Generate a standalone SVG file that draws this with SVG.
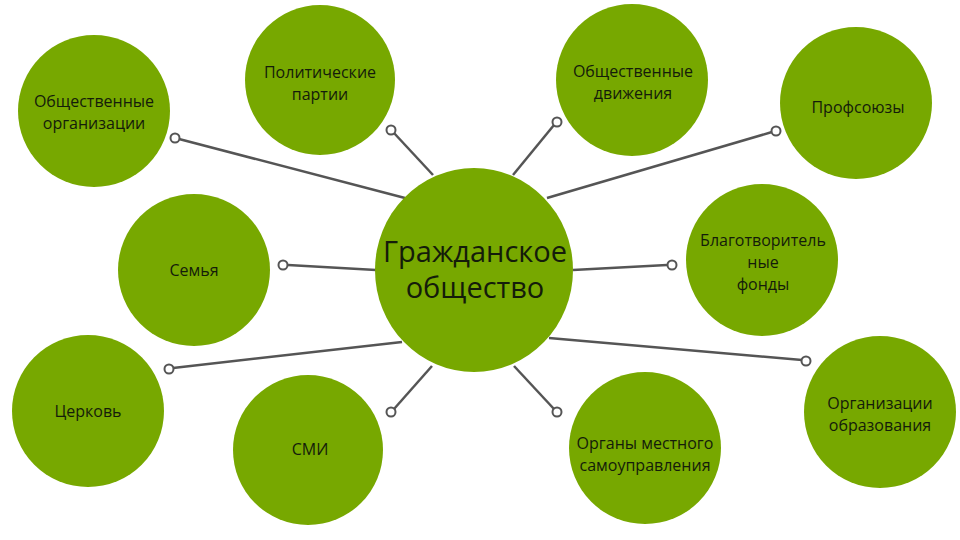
<svg xmlns="http://www.w3.org/2000/svg" width="960" height="540" viewBox="0 0 960 540">
<style>
.n{fill:#77a800}
.t{font-family:"Open Sans","Noto Sans","Liberation Sans",sans-serif;font-size:16px;fill:#141c0a;text-anchor:middle}
.big{font-size:29px}
.c line{stroke:#555;stroke-width:2.5}
.c circle{fill:#fff;stroke:#555;stroke-width:2}
</style>
<rect width="960" height="540" fill="#fff"/>
<g id="connectors" class="c">
<line x1="179" y1="139" x2="405" y2="198"/>
<line x1="394" y1="133" x2="433" y2="175"/>
<line x1="554" y1="125" x2="513" y2="175"/>
<line x1="772" y1="132" x2="547" y2="198"/>
<line x1="288" y1="265" x2="376" y2="270"/>
<line x1="667" y1="265" x2="573" y2="270"/>
<line x1="173" y1="368" x2="402" y2="342"/>
<line x1="394" y1="409" x2="432" y2="366"/>
<line x1="554" y1="409" x2="514" y2="366"/>
<line x1="802" y1="360" x2="549" y2="338"/>
<circle cx="175" cy="138" r="4.5"/>
<circle cx="391" cy="130" r="4.5"/>
<circle cx="557" cy="122" r="4.5"/>
<circle cx="776" cy="131" r="4.5"/>
<circle cx="283" cy="265" r="4.5"/>
<circle cx="672" cy="265" r="4.5"/>
<circle cx="169" cy="369" r="4.5"/>
<circle cx="391" cy="412" r="4.5"/>
<circle cx="557" cy="412" r="4.5"/>
<circle cx="806" cy="361" r="4.5"/>
</g>
<g id="center"><ellipse class="n" cx="474" cy="270" rx="99" ry="102"/>
<text class="t big" x="475" y="262">Гражданское</text><text class="t big" x="475" y="298">общество</text></g>
<g id="obshch-org"><circle class="n" cx="94" cy="111" r="76"/>
<text class="t" x="94" y="107">Общественные</text><text class="t" x="94" y="129">организации</text></g>
<g id="partii"><circle class="n" cx="320" cy="80" r="75"/>
<text class="t" x="320" y="78">Политические</text><text class="t" x="320" y="100">партии</text></g>
<g id="dvizheniya"><circle class="n" cx="632" cy="80" r="76"/>
<text class="t" x="633" y="77">Общественные</text><text class="t" x="633" y="99">движения</text></g>
<g id="profsoyuzy"><circle class="n" cx="856" cy="103" r="76"/>
<text class="t" x="858" y="113">Профсоюзы</text></g>
<g id="semya"><circle class="n" cx="194" cy="270" r="76"/>
<text class="t" x="194" y="276">Семья</text></g>
<g id="fondy"><circle class="n" cx="762" cy="260" r="76"/>
<text class="t" x="763" y="246">Благотворитель</text><text class="t" x="763" y="268">ные</text><text class="t" x="763" y="290">фонды</text></g>
<g id="tserkov"><circle class="n" cx="88" cy="411" r="76"/>
<text class="t" x="88" y="417">Церковь</text></g>
<g id="smi"><circle class="n" cx="308" cy="450" r="75"/>
<text class="t" x="310" y="455">СМИ</text></g>
<g id="mestnoe"><circle class="n" cx="645" cy="448" r="76"/>
<text class="t" x="645" y="449">Органы местного</text><text class="t" x="645" y="471">самоуправления</text></g>
<g id="obrazovanie"><circle class="n" cx="880" cy="412" r="76"/>
<text class="t" x="880" y="409">Организации</text><text class="t" x="880" y="431">образования</text></g>
</svg>
